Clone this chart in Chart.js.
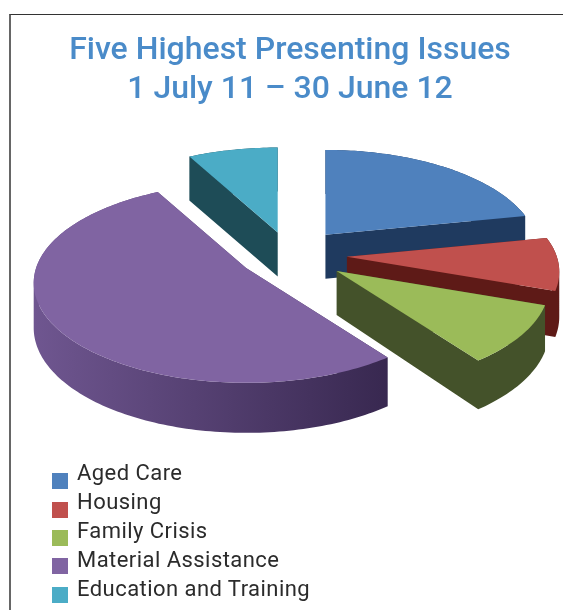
<!DOCTYPE html>
<html lang="en">
<head>
    <meta charset="UTF-8">
    <title>Five Highest Presenting Issues</title>
    <script src="https://cdn.jsdelivr.net/npm/chart.js"></script>
    <style>
        * { margin: 0; padding: 0; box-sizing: border-box; }
        html, body { width: 563px; height: 610px; overflow: hidden; background: #fff; }
        body { position: relative; font-family: Roboto, sans-serif; }
        #frame { position: absolute; left: 9px; top: 14px; width: 554px; height: 596px; border-top: 1px solid #333; border-left: 2px solid #666; }
        #pie { position: absolute; left: 0; top: 0; }
        #title { position: absolute; left: 0; top: 29px; width: 580px; text-align: center; color: #4a8bc9; font-size: 32px; font-weight: 500; line-height: 39px; }
        .legend-row { position: absolute; left: 77px; height: 29px; color: #2b2b2b; font-size: 22px; line-height: 29px; letter-spacing: 0.45px; white-space: nowrap; }
        .legend-swatch { position: absolute; left: 52px; width: 16px; height: 16px; }
    </style>
</head>
<body>
    <div id="frame"></div>
    <canvas id="pie" width="563" height="610"></canvas>
    <div id="title">Five Highest Presenting Issues<br>1 July 11 – 30 June 12</div>
    <div id="legend"></div>

    <script>
        const categories = ['Aged Care', 'Housing', 'Family Crisis', 'Material Assistance', 'Education and Training'];
        const shares = [21.8, 8.6, 9.5, 52.2, 7.9];

        const topColors = ['#4f81bd', '#c0504d', '#9bbb59', '#8064a2', '#4bacc6'];
        const sideLight = ['#1f3a5f', '#5e1a17', '#44522a', '#6f5690', '#1e4c57'];
        const sideDark = ['#1f3a5f', '#5e1a17', '#44522a', '#382850', '#1e4c57'];
        const explode = [56, 57, 58, 52, 50];

        // tilt of the pie plane: vertical squash, perspective strength, wall height
        const squash = 0.465;
        const perspective = 0.15;
        const wallBack = 44;
        const wallFront = 6;

        // Pie controller that keeps the library's arc geometry but paints each arc as a tilted wedge
        class Pie3DController extends Chart.PieController {
            static id = 'pie3d';
            static defaults = Chart.PieController.defaults;

            draw() {
                const ctx = this.chart.ctx;
                this._cachedMeta.data.forEach((arc, i) => this.drawWedge(ctx, arc, i));
            }

            drawWedge(ctx, arc, i) {
                const { x, y, startAngle, endAngle, outerRadius } = arc;
                const mid = (startAngle + endAngle) / 2;
                const apexX = x + arc.options.offset * Math.cos(mid);
                const apexY = y + arc.options.offset * Math.sin(mid) * squash;

                const project = (r, angle) => {
                    const t = (r / outerRadius) * Math.sin(angle);
                    const s = 1 / (1 - perspective * t);
                    return {
                        x: apexX + r * Math.cos(angle) * s,
                        y: apexY + r * Math.sin(angle) * squash * s,
                        wall: wallBack + wallFront * Math.max(t, 0)
                    };
                };

                // outline: apex, then along the rim, back to the apex
                const outline = [project(0, startAngle)];
                const steps = Math.ceil((endAngle - startAngle) / 0.02);
                for (let n = 0; n <= steps; n++) {
                    outline.push(project(outerRadius, startAngle + (endAngle - startAngle) * n / steps));
                }

                const xs = outline.map(p => p.x);
                const shade = ctx.createLinearGradient(Math.min(...xs), 0, Math.max(...xs), 0);
                shade.addColorStop(0, sideLight[i]);
                shade.addColorStop(1, sideDark[i]);
                ctx.save();

                // walls go in one path, every quad wound the same way, so no seams show
                ctx.beginPath();
                outline.forEach((p, n) => {
                    const q = outline[(n + 1) % outline.length];
                    const a = q.x >= p.x ? p : q;
                    const b = q.x >= p.x ? q : p;
                    ctx.moveTo(a.x, a.y);
                    ctx.lineTo(b.x, b.y);
                    ctx.lineTo(b.x, b.y + b.wall);
                    ctx.lineTo(a.x, a.y + a.wall);
                    ctx.closePath();
                });
                ctx.fillStyle = shade;
                ctx.fill();

                ctx.beginPath();
                outline.forEach((p, n) => n ? ctx.lineTo(p.x, p.y) : ctx.moveTo(p.x, p.y));
                ctx.closePath();
                ctx.fillStyle = arc.options.backgroundColor;
                ctx.fill();
                ctx.restore();
            }
        }
        Chart.register(Pie3DController);

        new Chart(document.getElementById('pie'), {
            type: 'pie3d',
            data: {
                labels: categories,
                datasets: [{
                    data: shares,
                    backgroundColor: topColors,
                    offset: explode,
                    borderWidth: 0
                }]
            },
            options: {
                responsive: false,
                animation: false,
                radius: 210,
                layout: { padding: { left: 17, bottom: 100 } },
                plugins: { legend: { display: false }, title: { display: false }, tooltip: { enabled: false } }
            }
        });

        // Legend rows
        const legendTops = [458, 487, 516, 545, 574];
        const swatchTops = [473, 502, 530, 558, 587];
        const legend = document.getElementById('legend');
        categories.forEach((name, i) => {
            const row = document.createElement('div');
            row.className = 'legend-row';
            row.style.top = legendTops[i] + 'px';
            row.textContent = name;
            legend.appendChild(row);

            const swatch = document.createElement('div');
            swatch.className = 'legend-swatch';
            swatch.style.top = swatchTops[i] + 'px';
            swatch.style.background = topColors[i];
            legend.appendChild(swatch);
        });
    </script>
</body>
</html>
